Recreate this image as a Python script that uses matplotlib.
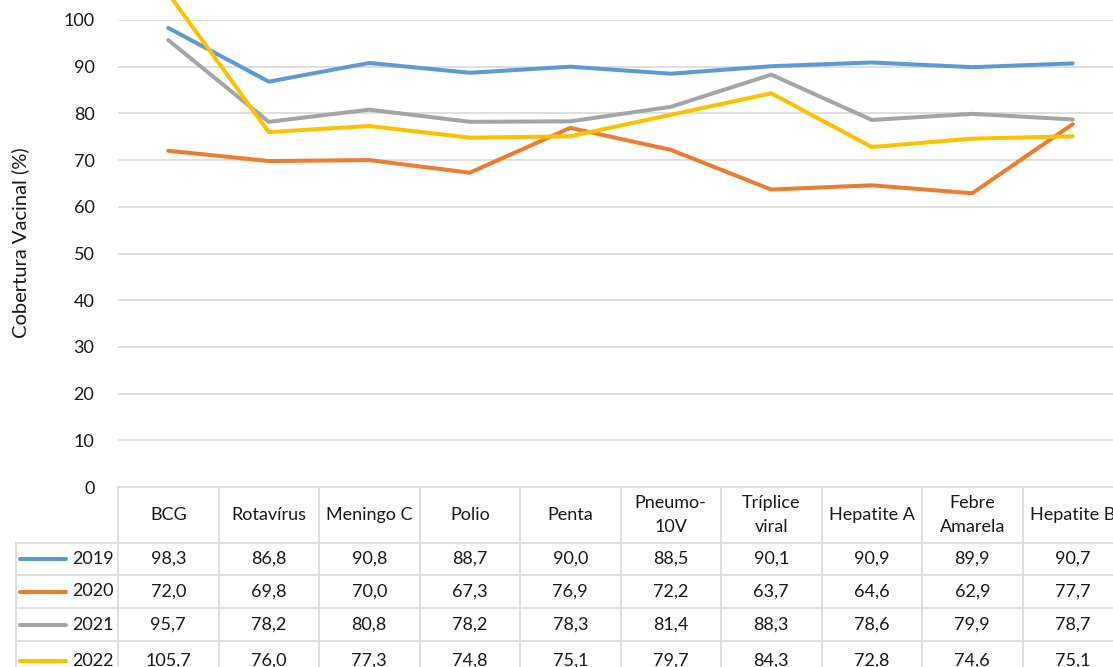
import matplotlib.pyplot as plt
import matplotlib.transforms as mtransforms

categories = ["BCG", "Rotavírus", "Meningo C", "Polio", "Penta", "Pneumo-\n10V",
              "Tríplice\nviral", "Hepatite A", "Febre\nAmarela", "Hepatite B"]
years = ["2019", "2020", "2021", "2022"]
cov_2019 = [98.3, 86.8, 90.8, 88.7, 90.0, 88.5, 90.1, 90.9, 89.9, 90.7]
cov_2020 = [72.0, 69.8, 70.0, 67.3, 76.9, 72.2, 63.7, 64.6, 62.9, 77.7]
cov_2021 = [95.7, 78.2, 80.8, 78.2, 78.3, 81.4, 88.3, 78.6, 79.9, 78.7]
cov_2022 = [105.7, 76.0, 77.3, 74.8, 75.1, 79.7, 84.3, 72.8, 74.6, 75.1]
series = [cov_2019, cov_2020, cov_2021, cov_2022]
colors = ["#5B9BD5", "#ED7D31", "#A5A5A5", "#FFC000"]

plt.rcParams['font.family'] = ['Lato', 'DejaVu Sans']
W, H = 1113, 667
fig = plt.figure(figsize=(W / 100, H / 100), dpi=100)

def fy(py):
    return 1 - py / H

FS = 13
TXT = "#1a1a1a"

# plot area goes past the right edge (chart is cropped there)
ax = fig.add_axes([118 / W, fy(487), 1005 / W, (487 - 20) / H])
n = len(categories)
xs = list(range(n))
for vals, c in zip(series, colors):
    ax.plot(xs, vals, color=c, lw=2.9, solid_capstyle='round', clip_on=False, zorder=3)

ax.set_xlim(-0.5, n - 0.5)
ax.set_ylim(0, 100)
ax.set_yticks(range(0, 101, 10))
ax.yaxis.grid(True, color="#d9d9d9", lw=1.2)
ax.set_axisbelow(True)
ax.tick_params(axis='y', length=0, pad=17, labelsize=FS, labelcolor=TXT)
ax.set_xticks([])
for s in ax.spines.values():
    s.set_visible(False)
fig.text(20 / W, fy(243), "Cobertura Vacinal (%)", rotation=90, ha='center', va='center',
         fontsize=14.5, color=TXT)

# data table under the chart
tr = mtransforms.blended_transform_factory(ax.transData, fig.transFigure)
gc = "#d9d9d9"
row_edges = [487, 543, 575, 608, 641, 680]
leg_left = -0.5 - 102 / 100.5
for i in range(n + 1):
    ax.plot([i - 0.5, i - 0.5], [fy(487), fy(680)], color=gc, lw=1.2, transform=tr, clip_on=False)
ax.plot([leg_left, leg_left], [fy(543), fy(680)], color=gc, lw=1.2, transform=tr, clip_on=False)
ax.plot([-0.5, n - 0.5], [fy(487), fy(487)], color=gc, lw=1.2, transform=tr, clip_on=False)
for py in row_edges[1:]:
    ax.plot([leg_left, n - 0.5], [fy(py), fy(py)], color=gc, lw=1.2, transform=tr, clip_on=False)

for i, cat in enumerate(categories):
    ax.text(i, fy(515), cat, ha='center', va='center', fontsize=FS, color=TXT,
            transform=tr, linespacing=1.65)

for r, (yr, vals, c) in enumerate(zip(years, series, colors)):
    yc = fy((row_edges[r + 1] + row_edges[r + 2]) / 2)
    ax.plot([leg_left + 0.04, leg_left + 0.5], [yc, yc], color=c, lw=2.9, transform=tr,
            clip_on=False, solid_capstyle='round')
    ax.text(-0.54, yc, yr, ha='right', va='center', fontsize=FS, color=TXT, transform=tr)
    for i, v in enumerate(vals):
        ax.text(i, yc, f"{v:.1f}".replace(".", ","), ha='center', va='center', fontsize=FS,
                color=TXT, transform=tr)

fig.savefig("out.png", dpi=100)
